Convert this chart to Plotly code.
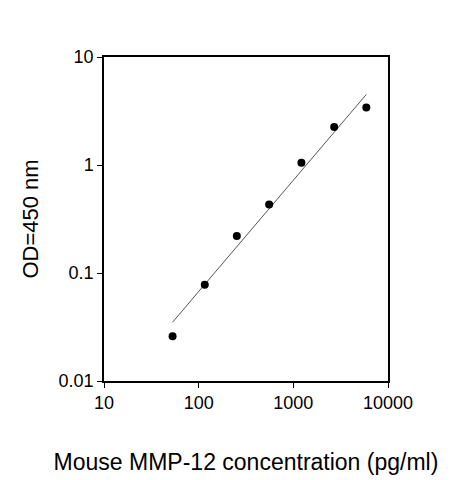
import plotly.graph_objects as go

# standard curve points
conc = [53, 116, 253, 555, 1217, 2700, 5900]
od = [0.026, 0.078, 0.22, 0.43, 1.05, 2.25, 3.4]

# fitted line endpoints
fit_x = [53, 5900]
fit_y = [0.035, 4.5]

fig = go.Figure()
fig.add_trace(go.Scatter(x=fit_x, y=fit_y, mode="lines",
                         line=dict(color="#555", width=1), showlegend=False))
fig.add_trace(go.Scatter(x=conc, y=od, mode="markers",
                         marker=dict(color="black", size=8), showlegend=False))

ax = dict(type="log", showline=True, linecolor="black", linewidth=1.5, mirror=True,
          ticks="outside", ticklen=5, tickcolor="black", showgrid=False, zeroline=False,
          tickfont=dict(size=18, color="black"))
fig.update_xaxes(**ax, range=[1, 4], tickvals=[10, 100, 1000, 10000],
                 ticktext=["10", "100", "1000", "10000"],
                 title=dict(text="Mouse MMP-12 concentration (pg/ml)", standoff=42,
                            font=dict(size=23, color="black")))
fig.update_yaxes(**ax, range=[-2, 1], tickvals=[0.01, 0.1, 1, 10],
                 ticktext=["0.01", "0.1", "1", "10"],
                 title=dict(text="OD=450 nm", standoff=14, font=dict(size=22, color="black")))
fig.update_layout(width=463, height=480, margin=dict(l=96, r=83, t=49, b=107),
                  plot_bgcolor="white", paper_bgcolor="white",
                  font=dict(family="Arial, Liberation Sans, sans-serif"))
fig.write_html("out.html")
